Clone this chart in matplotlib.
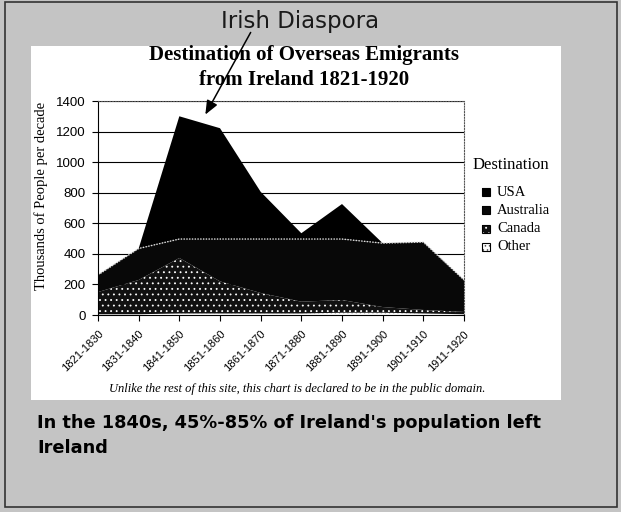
import matplotlib
matplotlib.use("Agg")
import matplotlib.pyplot as plt
from matplotlib.patches import Rectangle, FancyArrowPatch
from matplotlib.transforms import ScaledTranslation

plt.rcParams["hatch.linewidth"] = 0.6

# decades on the x axis
decades = ["1821-1830", "1831-1840", "1841-1850", "1851-1860", "1861-1870",
           "1871-1880", "1881-1890", "1891-1900", "1901-1910", "1911-1920"]

# thousands of emigrants per decade
other = [5, 5, 10, 10, 10, 10, 15, 15, 10, 5]
canada = [145, 224, 363, 210, 134, 77, 83, 37, 23, 15]
australia = [112, 206, 124, 277, 353, 410, 399, 418, 444, 209]
usa = [0, 0, 803, 725, 309, 38, 229, 0, 0, 0]

series_names = ["USA", "Australia", "Canada", "Other"]

W, H = 621, 512


def px(x, y):
    # pixel position on the slide -> figure fraction
    return x / W, 1 - y / H


fig = plt.figure(figsize=(W / 100, H / 100), dpi=100)
fig.patch.set_facecolor("#c4c4c4")

# slide frame and the white chart box
fig.patches.append(Rectangle(px(5, 507), 612 / W, 505 / H, transform=fig.transFigure,
                             fill=False, edgecolor="#333333", linewidth=1.2, zorder=-2))
fig.patches.append(Rectangle(px(31, 400), 530 / W, 354 / H, transform=fig.transFigure,
                             facecolor="white", edgecolor="none", zorder=-1))

ax = fig.add_axes([98 / W, (H - 315) / H, 366 / W, 214 / H])
ax.set_facecolor("white")

# fill styles per series
faces = {"USA": "black", "Australia": "#080808", "Canada": "#111111", "Other": "white"}
hatches = {"USA": None, "Australia": None, "Canada": "...", "Other": "...."}
hatch_cols = {"USA": "black", "Australia": "black", "Canada": "white", "Other": "#555555"}

x = list(range(len(decades)))
stack_order = ["Other", "Canada", "Australia", "USA"]
polys = ax.stackplot(x, other, canada, australia, usa,
                     colors=[faces[n] for n in stack_order], linewidth=0)
for poly, name in zip(polys, stack_order):
    if hatches[name]:
        poly.set_hatch(hatches[name])
        poly.set_edgecolor(hatch_cols[name])

# faint boundary between Australia and USA layers
cum = [o + c + a for o, c, a in zip(other, canada, australia)]
ax.plot(x, cum, color="#dddddd", linewidth=1, linestyle=(0, (1, 1)))

ax.set_xlim(0, len(decades) - 1)
ax.set_ylim(0, 1400)
ax.set_yticks(range(0, 1401, 200))
ax.set_xticks(x)
ax.set_xticklabels(decades, rotation=45, ha="right", va="top",
                   rotation_mode="anchor", fontsize=8, family="Liberation Sans")
shift = ScaledTranslation(-12 / 100, -3 / 100, fig.dpi_scale_trans)
for lab in ax.get_xticklabels():
    lab.set_transform(lab.get_transform() + shift)
for lab in ax.get_yticklabels():
    lab.set_family("Liberation Sans")
    lab.set_fontsize(9.5)
ax.tick_params(axis="both", direction="out", length=4, width=0.8, colors="black")
ax.tick_params(axis="y", pad=5)
ax.tick_params(axis="x", pad=6)
ax.grid(axis="y", color="black", linewidth=0.8)
ax.set_axisbelow(True)

for side in ["top", "right"]:
    ax.spines[side].set_linestyle((0, (1, 1.5)))
    ax.spines[side].set_color("#555555")
for side in ["left", "bottom"]:
    ax.spines[side].set_color("black")

ax.set_ylabel("Thousands of People per decade", family="Liberation Serif",
              fontsize=10.5, labelpad=0)
ax.yaxis.set_label_coords((48 - 98) / 366, 0.555)

# headings
fig.text(*px(300, 28), "Irish Diaspora", ha="center", va="baseline",
         fontsize=16.5, family="DejaVu Sans", color="#1a1a1a")
fig.text(*px(304, 60), "Destination of Overseas Emigrants", ha="center", va="baseline",
         fontsize=15, fontweight="bold", family="Liberation Serif")
fig.text(*px(304, 85), "from Ireland 1821-1920", ha="center", va="baseline",
         fontsize=15, fontweight="bold", family="Liberation Serif")

# arrow from heading to the peak
fig.add_artist(FancyArrowPatch(
    px(252, 30), px(204, 117), transform=fig.transFigure,
    arrowstyle="-|>,head_length=0.6,head_width=0.25", mutation_scale=14,
    color="black", linewidth=1.1, zorder=10))

# legend, drawn by hand to follow the original spacing
fig.text(*px(473, 165), "Destination", ha="left", va="center",
         fontsize=12, family="Liberation Serif")
for i, name in enumerate(series_names):
    yc = 192 + i * 18.3
    fill = Rectangle(px(482, yc + 4), 8 / W, 8 / H, transform=fig.transFigure,
                     facecolor=faces[name], edgecolor=hatch_cols[name],
                     hatch=hatches[name], linewidth=0)
    frame = Rectangle(px(482, yc + 4), 8 / W, 8 / H, transform=fig.transFigure,
                      fill=False, edgecolor="black", linewidth=0.8)
    fig.patches.extend([fill, frame])
    fig.text(*px(497, yc), name, ha="left", va="center",
             fontsize=10.5, family="Liberation Serif")

fig.text(*px(297, 392),
         "Unlike the rest of this site, this chart is declared to be in the public domain.",
         ha="center", va="baseline", fontsize=9, style="italic",
         family="Liberation Serif")

fig.text(*px(37, 428), "In the 1840s, 45%-85% of Ireland's population left",
         ha="left", va="baseline", fontsize=12.8, fontweight="bold", family="DejaVu Sans")
fig.text(*px(37, 453), "Ireland",
         ha="left", va="baseline", fontsize=12.8, fontweight="bold", family="DejaVu Sans")

fig.savefig("out.png", dpi=100, facecolor=fig.get_facecolor())
